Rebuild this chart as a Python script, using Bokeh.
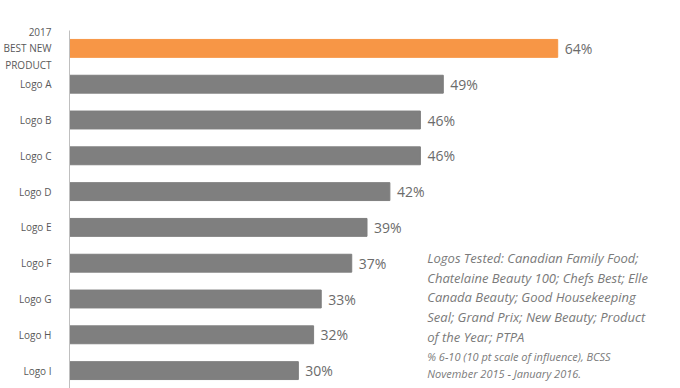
from bokeh.plotting import figure
from bokeh.models import ColumnDataSource, Label, LabelSet, Range1d
from bokeh.core.properties import value
from bokeh.embed import file_html
from bokeh.resources import INLINE

categories = ["2017\nBEST NEW\nPRODUCT", "Logo A", "Logo B", "Logo C", "Logo D", "Logo E",
              "Logo F", "Logo G", "Logo H", "Logo I"]
values = [64, 49, 46, 46, 42, 39, 37, 33, 32, 30]
colors = ["#F79646"] + ["#7F7F7F"] * 9
labels = [f"{v}%" for v in values]

source = ColumnDataSource(dict(cat=categories, val=values, color=colors, label=labels))

p = figure(width=680, height=388, y_range=list(reversed(categories)),
           x_range=Range1d(0, 78), output_backend="svg", toolbar_location=None,
           min_border_left=66, min_border_top=30, min_border_bottom=0, min_border_right=16)
p.hbar(y="cat", right="val", height=0.5, color="color", source=source)
p.add_layout(LabelSet(x="val", y="cat", text="label", source=source, x_offset=7,
                      text_baseline="middle", text_font=value("Open Sans"),
                      text_font_size=value("14px"), text_color="#6b6b6b"))

p.xaxis.visible = False
p.xgrid.visible = False
p.ygrid.visible = False
p.outline_line_color = None
p.y_range.range_padding = 0
p.yaxis.axis_line_color = "#BFBFBF"
p.yaxis.major_tick_line_color = None
p.yaxis.minor_tick_line_color = None
p.yaxis.major_label_text_font = "Open Sans"
p.yaxis.major_label_text_font_size = "10px"
p.yaxis.major_label_text_color = "#595959"
p.yaxis.major_label_standoff = 12

note = ("Logos Tested: Canadian Family Food;\nChatelaine Beauty 100; Chefs Best; Elle\n"
        "Canada Beauty; Good Housekeeping\nSeal; Grand Prix; New Beauty; Product\nof the Year; PTPA")
src_note = "% 6-10 (10 pt scale of influence), BCSS\nNovember 2015 - January 2016."
p.add_layout(Label(x=46.9, y=3.9, text=note, text_font="Open Sans", text_font_style="italic",
                   text_font_size="13px", text_color="#7a7a7a", text_line_height=1.1,
                   text_baseline="top"))
p.add_layout(Label(x=46.9, y=0.2, text=src_note, text_font="Open Sans", text_font_style="italic",
                   text_font_size="11px", text_color="#7a7a7a", text_line_height=1.15))

open("out.html", "w").write(file_html(p, INLINE))
